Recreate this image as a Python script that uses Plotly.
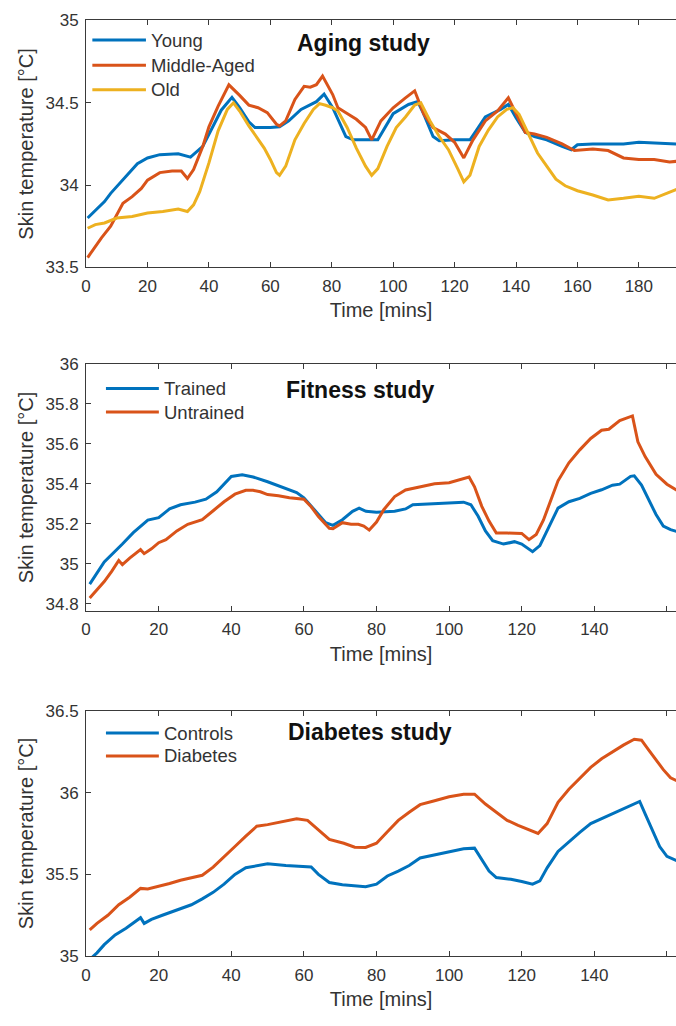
import plotly.graph_objects as go

W, H = 676, 1026

BLUE = "#0072BD"
RED = "#D95319"
YELLOW = "#EDB120"
AXIS = "#3a3a3a"
TEXT = "#333333"
FONT = "Liberation Sans, Arial, sans-serif"

# ---------------- Aging study ----------------
young_t = [0.5, 6, 8, 11.3, 16.7, 20, 24, 30, 34, 38, 40, 44, 47.5, 50, 53, 55, 60, 63, 66, 70, 75,
           77.5, 80.3, 84.6, 87, 95, 100, 105, 108, 110, 113, 115, 120, 125, 127, 130, 135, 137.5,
           140, 143, 146, 150, 155, 158, 160, 165, 170, 175, 180, 185, 190, 192.5]
young = [33.80, 33.90, 33.95, 34.02, 34.13, 34.165, 34.185, 34.19, 34.17, 34.235, 34.31, 34.455,
         34.533, 34.47, 34.385, 34.35, 34.35, 34.355, 34.39, 34.46, 34.507, 34.553, 34.47, 34.295,
         34.275, 34.275, 34.434, 34.49, 34.507, 34.43, 34.295, 34.27, 34.275, 34.275, 34.33, 34.414,
         34.46, 34.49, 34.41, 34.32, 34.295, 34.275, 34.235, 34.215, 34.245, 34.25, 34.25, 34.25,
         34.26, 34.255, 34.25, 34.25]

middle_t = [0.5, 5, 8, 10, 12, 15, 18, 20, 24, 28, 31, 33, 35, 38, 40, 43, 46.5, 50, 53, 56, 59, 62,
            63, 65, 68, 71, 73, 75, 77, 80.3, 82, 85, 88, 91, 93, 96, 100, 104, 107, 110, 113, 117,
            120, 123, 126, 130, 134, 137.5, 140, 143, 146, 150, 155, 159, 165, 170, 175, 180, 185,
            190, 192.5]
middle = [33.56, 33.68, 33.75, 33.82, 33.89, 33.93, 33.98, 34.03, 34.076, 34.085, 34.085, 34.04,
          34.095, 34.235, 34.354, 34.48, 34.609, 34.545, 34.486, 34.47, 34.44, 34.37, 34.36, 34.39,
          34.52, 34.6, 34.595, 34.61, 34.662, 34.55, 34.47, 34.435, 34.40, 34.35, 34.275, 34.39,
          34.47, 34.53, 34.573, 34.43, 34.35, 34.31, 34.26, 34.165, 34.275, 34.39, 34.45, 34.53,
          34.43, 34.32, 34.31, 34.29, 34.25, 34.21, 34.22, 34.21, 34.165, 34.156, 34.156, 34.14,
          34.145]

old_t = [0.5, 3, 6, 10, 15, 20, 25, 30, 33, 35, 37, 40, 43, 46, 48, 50, 53, 56, 58, 60, 62, 63, 65,
         68, 71, 74, 76, 78, 80.3, 82, 85, 88, 91, 93, 95, 98, 101, 104, 107, 109, 112, 115, 118,
         121, 123, 125, 128, 131, 134, 137, 139, 141, 144, 147, 150, 153, 156, 160, 165, 170, 175,
         180, 185, 190, 192.5]
old = [33.738, 33.76, 33.77, 33.80, 33.81, 33.83, 33.84, 33.855, 33.84, 33.88, 33.96, 34.135, 34.33,
       34.46, 34.50, 34.45, 34.36, 34.275, 34.225, 34.156, 34.076, 34.06, 34.115, 34.275, 34.374,
       34.46, 34.495, 34.485, 34.47, 34.45, 34.35, 34.225, 34.115, 34.06, 34.10, 34.235, 34.35,
       34.414, 34.486, 34.50, 34.39, 34.295, 34.215, 34.10, 34.02, 34.06, 34.235, 34.334, 34.414,
       34.46, 34.47, 34.43, 34.314, 34.195, 34.115, 34.036, 33.996, 33.966, 33.94, 33.91, 33.92,
       33.933, 33.92, 33.96, 33.975]

# ---------------- Fitness study ----------------
trained_t = [1, 5, 10, 13, 17, 20, 23, 26, 30, 33, 36, 40, 43, 46, 50, 55, 58, 60, 63, 66, 68,
             70.6, 73.4, 75.2, 77.1, 80, 85, 88, 90, 95, 100, 104, 106, 108, 110, 112, 115, 118,
             120, 123, 125, 128, 130, 133, 136, 139, 142, 145, 147, 150, 151, 153, 155, 157, 159,
             161, 163]
trained = [34.897, 35.008, 35.098, 35.155, 35.218, 35.23, 35.274, 35.295, 35.308, 35.323, 35.36,
           35.437, 35.445, 35.434, 35.41, 35.377, 35.356, 35.33, 35.27, 35.205, 35.192, 35.22,
           35.262, 35.278, 35.262, 35.257, 35.262, 35.274, 35.295, 35.30, 35.303, 35.308, 35.295,
           35.237, 35.164, 35.115, 35.098, 35.11, 35.098, 35.06, 35.09, 35.205, 35.278, 35.31,
           35.327, 35.352, 35.37, 35.393, 35.398, 35.437, 35.44, 35.393, 35.32, 35.246, 35.188,
           35.17, 35.16]

untrained_t = [1, 3, 5, 7, 9, 10, 12, 15, 16, 18, 20, 22, 25, 28, 30, 32, 35, 38, 41, 44, 46, 48,
               50, 53, 56, 60, 62, 64, 67, 68, 70.6, 73, 75, 76.5, 78, 80, 82, 85, 88, 92, 96, 100,
               103, 105.5, 107, 109, 111, 113, 116, 120, 122, 124, 126, 128, 130, 133, 136, 139,
               142, 144, 147, 150.5, 152, 154, 157, 160, 163]
untrained = [34.828, 34.87, 34.91, 34.96, 35.016, 34.995, 35.028, 35.07, 35.05, 35.074, 35.105,
             35.12, 35.164, 35.197, 35.208, 35.22, 35.265, 35.31, 35.348, 35.367, 35.367, 35.36,
             35.346, 35.34, 35.33, 35.323, 35.285, 35.236, 35.177, 35.175, 35.205, 35.197, 35.197,
             35.188, 35.168, 35.208, 35.27, 35.336, 35.369, 35.385, 35.40, 35.405, 35.421, 35.434,
             35.385, 35.287, 35.213, 35.153, 35.153, 35.151, 35.12, 35.146, 35.219, 35.318,
             35.415, 35.505, 35.57, 35.627, 35.668, 35.673, 35.717, 35.74, 35.61, 35.536, 35.447,
             35.398, 35.365]

# ---------------- Diabetes study ----------------
controls_t = [1.5, 3, 5, 8, 11, 14, 15, 16, 18, 21, 25, 29, 32, 35, 38, 41, 44, 47, 50, 55, 60,
              62, 64, 67, 70.6, 74, 77, 80, 83, 86, 89, 92, 96, 100, 104, 107, 109, 111, 113, 117,
              120, 123, 125, 127, 130, 133, 136, 139, 142, 145, 148, 151, 152.5, 154, 156, 158,
              160, 163]
controls = [34.99, 35.02, 35.07, 35.13, 35.17, 35.22, 35.235, 35.20, 35.225, 35.25, 35.28, 35.314,
            35.35, 35.39, 35.44, 35.50, 35.54, 35.554, 35.564, 35.554, 35.55, 35.545, 35.50, 35.45,
            35.436, 35.43, 35.424, 35.44, 35.49, 35.52, 35.554, 35.60, 35.62, 35.64, 35.656, 35.66,
            35.59, 35.52, 35.48, 35.47, 35.456, 35.44, 35.46, 35.54, 35.64, 35.70, 35.756, 35.81,
            35.84, 35.87, 35.90, 35.934, 35.946, 35.87, 35.77, 35.67, 35.61, 35.58]

diabetes_t = [1, 3, 6, 9, 12, 15, 17, 20, 23, 26, 29, 32, 35, 38, 41, 44, 47, 50, 54, 58, 61, 64,
              67, 71, 74, 77, 80, 83, 86, 89, 92, 96, 100, 104, 107, 110, 113, 116, 119, 122,
              124.5, 127, 130, 133, 136, 139, 142, 145, 148, 151, 153, 155, 157, 159, 161, 163]
diabetes = [35.16, 35.20, 35.25, 35.314, 35.36, 35.414, 35.41, 35.426, 35.444, 35.464, 35.48,
            35.494, 35.544, 35.61, 35.67, 35.734, 35.794, 35.804, 35.82, 35.84, 35.83, 35.77,
            35.714, 35.69, 35.666, 35.664, 35.69, 35.76, 35.83, 35.88, 35.926, 35.95, 35.974,
            35.99, 35.99, 35.93, 35.88, 35.83, 35.80, 35.77, 35.75, 35.81, 35.94, 36.02, 36.09,
            36.154, 36.206, 36.25, 36.29, 36.326, 36.32, 36.26, 36.20, 36.14, 36.09, 36.07]

# Axis ticks
x_ticks_aging = [0, 20, 40, 60, 80, 100, 120, 140, 160, 180]
x_ticks_other = [0, 20, 40, 60, 80, 100, 120, 140, 160]
y_ticks_aging = [33.5, 34, 34.5, 35]
y_labels_aging = ["33.5", "34", "34.5", "35"]
y_ticks_fitness = [34.8, 35, 35.2, 35.4, 35.6, 35.8, 36]
y_labels_fitness = ["34.8", "35", "35.2", "35.4", "35.6", "35.8", "36"]
y_ticks_diabetes = [35, 35.5, 36, 36.5]
y_labels_diabetes = ["35", "35.5", "36", "36.5"]

# Panel geometry in pixels (top, bottom) and shared left edge
LEFT_PX = 81.7
panels = [
    dict(top=11.7, bottom=263.3, xr=[0, 192.1], yr=[33.5, 35],
         xt=x_ticks_aging, yt=y_ticks_aging, yl=y_labels_aging, title="Aging study",
         title_x=361, title_y=35,
         series=[("Young", young_t, young, BLUE), ("Middle-Aged", middle_t, middle, RED),
                 ("Old", old_t, old, YELLOW)],
         leg_x0=88, leg_x1=142, leg_y=[31.7, 57.3, 82.3]),
    dict(top=361.7, bottom=613.3, xr=[0, 162.5], yr=[34.763, 36],
         xt=x_ticks_other, yt=y_ticks_fitness, yl=y_labels_fitness, title="Fitness study",
         title_x=358, title_y=388,
         series=[("Trained", trained_t, trained, BLUE), ("Untrained", untrained_t, untrained, RED)],
         leg_x0=101.7, leg_x1=155, leg_y=[386.7, 410.7]),
    dict(top=715, bottom=965, xr=[0, 162.5], yr=[35, 36.5],
         xt=x_ticks_other, yt=y_ticks_diabetes, yl=y_labels_diabetes, title="Diabetes study",
         title_x=368, title_y=737,
         series=[("Controls", controls_t, controls, BLUE), ("Diabetes", diabetes_t, diabetes, RED)],
         leg_x0=101.7, leg_x1=155, leg_y=[737.7, 761]),
]


def px_x(v):
    return v / W


def px_y(v):
    return 1 - v / H


fig = go.Figure()
shapes = []
annotations = []
layout = {}

for i, p in enumerate(panels, start=1):
    sfx = "" if i == 1 else str(i)
    xa, ya = "x" + sfx, "y" + sfx
    for name, t, v, color in p["series"]:
        fig.add_trace(go.Scatter(x=t, y=v, mode="lines", name=name, showlegend=False,
                                 line=dict(color=color, width=3), xaxis=xa, yaxis=ya))
    layout["xaxis" + sfx] = dict(
        domain=[px_x(LEFT_PX), 1], range=p["xr"], anchor=ya,
        tickvals=p["xt"], ticks="inside", ticklen=5, tickwidth=1, tickcolor=AXIS,
        showline=True, linecolor=AXIS, linewidth=1, mirror="ticks",
        showgrid=False, zeroline=False,
        tickfont=dict(family=FONT, size=17, color=TEXT), ticklabelstandoff=3,
        title=dict(text="Time [mins]", font=dict(family=FONT, size=20, color=TEXT), standoff=8),
    )
    layout["yaxis" + sfx] = dict(
        domain=[px_y(p["bottom"]), px_y(p["top"])], range=p["yr"], anchor=xa,
        tickvals=p["yt"], ticktext=p["yl"], ticks="inside", ticklen=5, tickwidth=1,
        tickcolor=AXIS, showline=True, linecolor=AXIS, linewidth=1, mirror=False,
        showgrid=False, zeroline=False,
        tickfont=dict(family=FONT, size=17, color=TEXT), ticklabelstandoff=3,
        title=dict(text="Skin temperature [°C]", font=dict(family=FONT, size=20, color=TEXT),
                   standoff=6),
    )
    annotations.append(dict(
        text="<b>%s</b>" % p["title"], x=px_x(p["title_x"]), y=px_y(p["title_y"]),
        xref="paper", yref="paper", xanchor="center", yanchor="middle", showarrow=False,
        font=dict(family=FONT, size=23, color="#111111")))
    # legend box entries
    for (name, _, _, color), ly in zip(p["series"], p["leg_y"]):
        shapes.append(dict(type="line", xref="paper", yref="paper",
                           x0=px_x(p["leg_x0"]), x1=px_x(p["leg_x1"]),
                           y0=px_y(ly), y1=px_y(ly), line=dict(color=color, width=3)))
        annotations.append(dict(
            text=name, x=px_x(p["leg_x1"] + 3), y=px_y(ly), xref="paper", yref="paper",
            xanchor="left", yanchor="middle", showarrow=False,
            font=dict(family=FONT, size=18.5, color=TEXT)))

fig.update_layout(
    width=W, height=H, margin=dict(l=0, r=0, t=0, b=0),
    paper_bgcolor="white", plot_bgcolor="white",
    showlegend=False, shapes=shapes, annotations=annotations, **layout,
)

fig.write_html("out.html")
